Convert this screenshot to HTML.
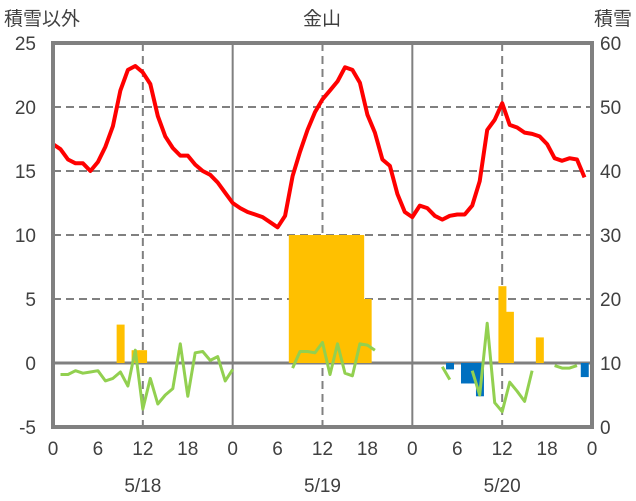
<!DOCTYPE html>
<html><head><meta charset="utf-8"><style>
body{margin:0;background:#fff}
svg{display:block}
text{font-family:"Liberation Sans","Noto Sans CJK JP",sans-serif;fill:#404040}
</style></head><body>
<svg id="chart" width="636" height="501" viewBox="0 0 636 501" xmlns="http://www.w3.org/2000/svg">
<g id="grid"></g>
<g id="bars"></g>
<g id="lines"></g>
<g id="axes"></g>
<text x="4" y="25" font-size="19">積雪以外</text>
<text x="322" y="25" font-size="19" text-anchor="middle">金山</text>
<text x="632" y="25" font-size="19" text-anchor="end">積雪</text>
</svg>
<script>
const hours = [];
for (let i = 0; i < 72; i++) hours.push(i);
const temperature = [17.1,16.7,15.9,15.6,15.6,15.0,15.7,16.9,18.5,21.3,22.9,23.2,22.7,21.8,19.3,17.7,16.8,16.2,16.2,15.5,15.0,14.7,14.1,13.3,12.5,12.1,11.8,11.6,11.4,11.0,10.6,11.5,14.6,16.5,18.2,19.6,20.6,21.3,22.0,23.1,22.9,21.9,19.4,18.0,15.9,15.4,13.2,11.8,11.4,12.3,12.1,11.5,11.2,11.5,11.6,11.6,12.3,14.2,18.2,19.0,20.3,18.6,18.4,18.0,17.9,17.7,17.1,16.0,15.8,16.0,15.9,14.5];
const greenSeries = [null,-0.9,-0.9,-0.6,-0.8,-0.7,-0.6,-1.4,-1.2,-0.7,-1.8,1.0,-3.6,-1.2,-3.2,-2.5,-2.0,1.5,-2.6,0.8,0.9,0.2,0.5,-1.4,-0.5,null,null,null,null,null,null,null,-0.4,0.9,0.9,0.8,1.6,-0.9,1.5,-0.8,-1.0,1.5,1.4,1.0,null,null,null,null,null,null,null,null,-0.3,-1.3,null,null,-0.6,-2.5,3.1,-3.1,-3.8,-1.5,-2.2,-3.0,-0.6,null,null,-0.2,-0.4,-0.4,-0.2,null];
const precipHours = [9,11,12,32,33,34,35,36,37,38,39,40,41,42,60,61,65];
const precipValues = [3,1,1,10,10,10,10,10,10,10,10,10,10,5,6,4,2];
const blueHours = [53,55,56,57,71];
const blueValues = [-0.5,-1.6,-1.6,-2.6,-1.1];
const leftTicks = [25,20,15,10,5,0,-5];
const rightTicks = [60,50,40,30,20,10,0];
const xTicks = [0,6,12,18,24,30,36,42,48,54,60,66,72];
const xTickLabels = ["0","6","12","18","0","6","12","18","0","6","12","18","0"];
const dayLabels = ["5/18","5/19","5/20"];

const X0=53, X1=592, Y0=43, Y1=427;
const xs = h => X0 + h*(X1-X0)/72;
const yL = v => Y1 - (v+5)*(Y1-Y0)/30;
const yR = v => Y1 - v*(Y1-Y0)/60;
const NS="http://www.w3.org/2000/svg";
function mk(tag, parent, attrs){const e=document.createElementNS(NS,tag);for(const k in attrs)e.setAttribute(k,attrs[k]);document.getElementById(parent).appendChild(e);return e;}

// grid
leftTicks.forEach(v=>{ if(v===25||v===-5||v===0) return;
  const l=mk('line','grid',{x1:X0,x2:X1,y1:yL(v),y2:yL(v),stroke:'#808080','stroke-width':2,'stroke-dasharray':'8,5'});
  
  
});
[12,36,60].forEach(h=>{
  const l=mk('line','grid',{x1:xs(h),x2:xs(h),y1:Y0,y2:Y1,stroke:'#808080','stroke-width':2,'stroke-dasharray':'8,5'});
  
  
});
[24,48].forEach(h=>{
  const l=mk('line','grid',{x1:xs(h),x2:xs(h),y1:Y0,y2:Y1,stroke:'#808080','stroke-width':2});
  
  
});
const bw=(X1-X0)/72;
precipHours.forEach((h,i)=>{
  const v=precipValues[i];
  const r=mk('rect','bars',{x:xs(h)-bw/2,y:yL(v),width:bw+0.5,height:yL(0)-yL(v),fill:'#ffc000'});
  
  
});
blueHours.forEach((h,i)=>{
  const v=blueValues[i];
  const r=mk('rect','bars',{x:xs(h)-bw/2,y:yL(0),width:bw+0.5,height:yL(v)-yL(0),fill:'#0070c0'});
  
  
});
// zero line
const z=mk('line','grid',{x1:X0,x2:X1,y1:yL(0),y2:yL(0),stroke:'#808080','stroke-width':3});


// temperature line
let d=temperature.map((v,i)=>(i?'L':'M')+xs(hours[i]).toFixed(1)+','+yL(v).toFixed(1)).join('');
const t=mk('path','lines',{d:d,fill:'none',stroke:'#ff0000','stroke-width':4,'stroke-linejoin':'round'});


// green line (segments)
let gd='',pen=false;
greenSeries.forEach((v,i)=>{ if(v===null){pen=false;return;} gd+=(pen?'L':'M')+xs(hours[i]).toFixed(1)+','+yL(v).toFixed(1); pen=true;});
const g=mk('path','lines',{d:gd,fill:'none',stroke:'#92d050','stroke-width':3,'stroke-linejoin':'round'});


// frame
const f=mk('rect','axes',{x:X0,y:Y0,width:X1-X0,height:Y1-Y0,fill:'none',stroke:'#808080','stroke-width':4});


leftTicks.forEach(v=>{
  const e=mk('text','axes',{x:36,y:yL(v)+7,'font-size':19,'text-anchor':'end'}); e.textContent=v;
  
  
});
rightTicks.forEach(v=>{
  const e=mk('text','axes',{x:600,y:yR(v)+7,'font-size':19}); e.textContent=v;
  
  
});
xTicks.forEach((h,i)=>{
  const e=mk('text','axes',{x:xs(h),y:455,'font-size':19,'text-anchor':'middle'}); e.textContent=xTickLabels[i];
  
  
});
dayLabels.forEach((s,i)=>{
  const e=mk('text','axes',{x:xs(12+24*i),y:492,'font-size':19,'text-anchor':'middle'}); e.textContent=s;
  
  
});
</script>
</body></html>
